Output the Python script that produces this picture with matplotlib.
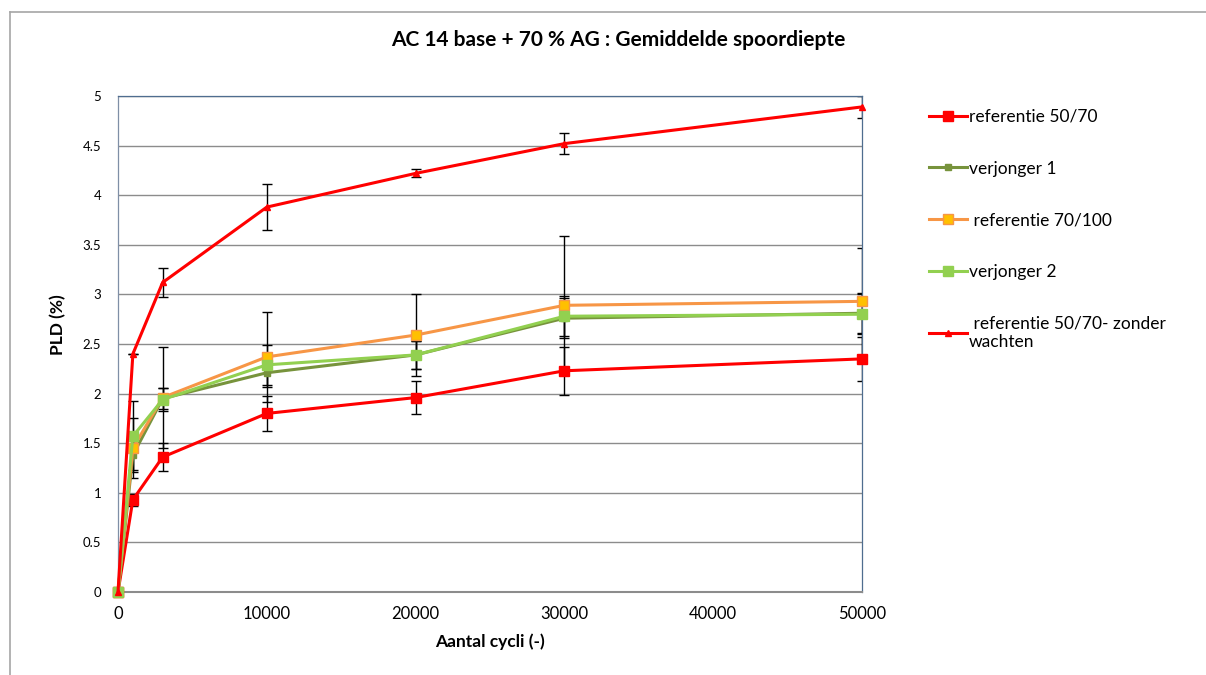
import matplotlib
matplotlib.use('Agg')
import matplotlib.pyplot as plt
from matplotlib.lines import Line2D

plt.rcParams['font.family'] = ['Lato', 'DejaVu Sans']

# aantal cycli
cycles = [0, 1000, 3000, 10000, 20000, 30000, 50000]

# gemiddelde spoordiepte (PLD %) per mengsel, met standaardafwijking
ref_50_70 = [0, 0.93, 1.36, 1.80, 1.96, 2.23, 2.35]
ref_50_70_err = [0, 0.06, 0.14, 0.18, 0.17, 0.24, 0.22]

verjonger_1 = [0, 1.38, 1.95, 2.21, 2.39, 2.76, 2.81]
verjonger_1_err = [0, 0.15, 0.11, 0.14, 0.14, 0.20, 0.20]

ref_70_100 = [0, 1.45, 1.96, 2.37, 2.59, 2.89, 2.93]
ref_70_100_err = [0, 0.30, 0.51, 0.45, 0.41, 0.70, 0.54]

verjonger_2 = [0, 1.57, 1.94, 2.29, 2.39, 2.78, 2.80]
verjonger_2_err = [0, 0.36, 0.12, 0.20, 0.14, 0.20, 0.20]

zonder_wachten = [0, 2.40, 3.12, 3.88, 4.22, 4.52, 4.89]
zonder_wachten_err = [0, 0, 0.15, 0.23, 0.04, 0.105, 0.11]

labels = ['referentie 50/70', 'verjonger 1', ' referentie 70/100',
          'verjonger 2', ' referentie 50/70- zonder\nwachten']

series = [
    (ref_50_70, ref_50_70_err, dict(color='#FF0000', marker='s', ms=7.5, mfc='#FF0000', mec='#FF0000')),
    (verjonger_1, verjonger_1_err, dict(color='#77933C', marker='s', ms=4.5, mfc='#77933C', mec='#77933C')),
    (ref_70_100, ref_70_100_err, dict(color='#F79646', marker='s', ms=6.5, mfc='#FFC000', mec='#F79646')),
    (verjonger_2, verjonger_2_err, dict(color='#92D050', marker='s', ms=7.5, mfc='#92D050', mec='#92D050')),
    (zonder_wachten, zonder_wachten_err, dict(color='#FF0000', marker='^', ms=5, mfc='#FF0000', mec='#FF0000')),
]

fig = plt.figure(figsize=(12.06, 6.75), dpi=100)
ax = fig.add_axes([118 / 1206, 1 - 592 / 675, 744 / 1206, 496 / 675])

handles = []
for (vals, err, style), lab in zip(series, labels):
    ax.errorbar(cycles, vals, yerr=err, fmt='none', ecolor='black',
                elinewidth=1.0, capsize=3.5, capthick=1.0, zorder=2, clip_on=True)
    h, = ax.plot(cycles, vals, lw=2.2, label=lab, zorder=3, clip_on=False, **style)
    handles.append(h)

ax.set_xlim(0, 50000)
ax.set_ylim(0, 5)
ax.set_xticks([0, 10000, 20000, 30000, 40000, 50000])
ax.set_yticks([0, 0.5, 1, 1.5, 2, 2.5, 3, 3.5, 4, 4.5, 5])
ax.set_yticklabels(['0', '0.5', '1', '1.5', '2', '2.5', '3', '3.5', '4', '4.5', '5'])
ax.tick_params(axis='x', length=0, pad=10, labelsize=12)
ax.tick_params(axis='y', length=0, pad=12, labelsize=9.5)
ax.grid(axis='y', color='#8C8C8C', lw=1.0)
ax.set_axisbelow(True)

for side in ['top', 'right']:
    ax.spines[side].set_color('#4F6D8F')
    ax.spines[side].set_linewidth(0.9)
ax.spines['left'].set_color('#7F8FA6')
ax.spines['left'].set_linewidth(0.9)
ax.spines['bottom'].set_color('#8C8C8C')
ax.spines['bottom'].set_linewidth(1.5)

ax.set_xlabel('Aantal cycli (-)', fontsize=12.5, fontweight='bold', labelpad=8)
ax.set_ylabel('PLD (%)', fontsize=12.5, fontweight='bold', labelpad=8)
ax.yaxis.set_label_coords(-0.069, 0.54)

fig.text(618 / 1206, 1 - 40 / 675, 'AC 14 base + 70 % AG : Gemiddelde spoordiepte',
         ha='center', va='center', fontsize=15, fontweight='bold')

fig.legend(handles=handles, loc='upper left', bbox_to_anchor=(922 / 1206, 1 - 102 / 675),
           frameon=False, fontsize=12.5, handlelength=2.2, handletextpad=0.1,
           labelspacing=2.05, borderaxespad=0)

# kader rond de grafiek
fig.add_artist(Line2D([10 / 1206, 1.0], [1 - 12 / 675, 1 - 12 / 675], color='#A6A6A6', lw=1.2))
fig.add_artist(Line2D([10 / 1206, 10 / 1206], [0, 1 - 12 / 675], color='#A6A6A6', lw=1.2))

fig.savefig('out.png', dpi=100, facecolor='white')
